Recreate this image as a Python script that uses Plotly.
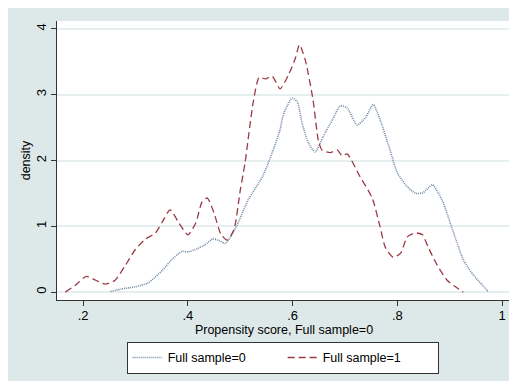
import plotly.graph_objects as go

# Full sample=0 (dotted)
x0 = [0.252, 0.275, 0.299, 0.324, 0.351, 0.370, 0.389, 0.400, 0.418, 0.433, 0.448, 0.460, 0.471, 0.480,
      0.494, 0.515, 0.542, 0.561, 0.576, 0.582, 0.599, 0.609, 0.618, 0.630, 0.643, 0.658,
      0.676, 0.691, 0.704, 0.723, 0.739, 0.754, 0.767, 0.786, 0.800, 0.819, 0.835, 0.849,
      0.867, 0.878, 0.888, 0.901, 0.914, 0.926, 0.945, 0.962, 0.974]
y0 = [0.01, 0.05, 0.08, 0.14, 0.33, 0.50, 0.62, 0.61, 0.66, 0.72, 0.81, 0.78, 0.74, 0.82,
      1.02, 1.40, 1.75, 2.12, 2.47, 2.69, 2.95, 2.89, 2.57, 2.27, 2.13, 2.36,
      2.62, 2.83, 2.80, 2.54, 2.65, 2.85, 2.62, 2.16, 1.81, 1.60, 1.50, 1.51,
      1.63, 1.51, 1.35, 1.05, 0.75, 0.49, 0.26, 0.11, 0.0]

# Full sample=1 (dashed)
x1 = [0.166, 0.186, 0.206, 0.224, 0.242, 0.261, 0.280, 0.299, 0.318, 0.338, 0.352, 0.366, 0.383, 0.400,
      0.415, 0.427, 0.437, 0.450, 0.463, 0.475, 0.488, 0.500, 0.509, 0.525, 0.536, 0.548,
      0.561, 0.576, 0.592, 0.605, 0.613, 0.624, 0.639, 0.649, 0.656, 0.672, 0.685, 0.695,
      0.704, 0.729, 0.752, 0.767, 0.777, 0.792, 0.806, 0.819, 0.834, 0.848, 0.859, 0.876,
      0.895, 0.911, 0.926]
y1 = [0.0, 0.11, 0.24, 0.18, 0.12, 0.18, 0.40, 0.64, 0.80, 0.90, 1.08, 1.25, 1.05, 0.87,
      1.05, 1.37, 1.43, 1.20, 0.88, 0.79, 0.95, 1.55, 1.96, 2.90, 3.26, 3.24,
      3.28, 3.09, 3.30, 3.55, 3.76, 3.53, 2.92, 2.31, 2.16, 2.12, 2.16, 2.07,
      2.10, 1.75, 1.43, 0.99, 0.68, 0.53, 0.59, 0.84, 0.90, 0.87, 0.68, 0.41,
      0.18, 0.08, 0.0]

x_ticks = [0.2, 0.4, 0.6, 0.8, 1.0]
x_labels = [".2", ".4", ".6", ".8", "1"]
y_ticks = [0, 1, 2, 3, 4]
y_labels = ["0", "1", "2", "3", "4"]

BG = "#dde8e8"
FONT = "Liberation Sans, Arial, sans-serif"

fig = go.Figure()
fig.add_trace(go.Scatter(x=x0, y=y0, mode="lines", name="Full sample=0",
                         line=dict(color="#7089a6", width=1.6, dash="1px,1px", shape="spline", smoothing=0.6)))
fig.add_trace(go.Scatter(x=x1, y=y1, mode="lines", name="Full sample=1",
                         line=dict(color="#9a3a44", width=1.3, dash="7px,4px", shape="spline", smoothing=0.6)))

# the page has an 8px body margin; the figure fills the rest of the 517x381 window
W, H = 509, 373
L, R, T, B = 49, 6, 13, 81

fig.update_layout(
    width=W, height=H,
    margin=dict(l=L, r=R, t=T, b=B, pad=0, autoexpand=False),
    paper_bgcolor=BG, plot_bgcolor="white",
    font=dict(family=FONT, size=12, color="#000000"),
    showlegend=True,
    legend=dict(orientation="h", x=0.497, xanchor="center", y=-0.15, yanchor="top",
                bgcolor="white", bordercolor="#333333", borderwidth=1,
                font=dict(family=FONT, size=12.5, color="black"),
                entrywidth=110, itemwidth=30),
    xaxis=dict(range=[0.150, 1.017], tickvals=x_ticks, ticktext=x_labels,
               showgrid=False, zeroline=False, showline=True, linecolor="#333333", linewidth=1.2,
               ticks="outside", ticklen=5, tickcolor="#333333", tickfont=dict(size=13),
               ticklabelstandoff=-2,
               title=dict(text="Propensity score, Full sample=0", font=dict(size=12.5), standoff=0)),
    yaxis=dict(range=[-0.12, 4.12], tickvals=y_ticks, ticktext=y_labels, tickangle=-90,
               showgrid=True, gridcolor="#e6eeef", gridwidth=1.5, zeroline=False,
               showline=True, linecolor="#333333", linewidth=1.2,
               ticks="outside", ticklen=5, tickcolor="#333333", tickfont=dict(size=13),
               title=dict(text="density", font=dict(size=12.5), standoff=0)),
)

fig.write_html("out.html")
